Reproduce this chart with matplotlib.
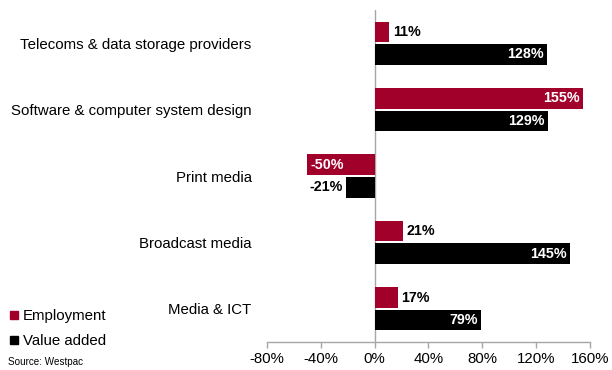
import matplotlib
matplotlib.use("Agg")
import matplotlib.pyplot as plt
import matplotlib.lines as mlines
import numpy as np

plt.rcParams["font.family"] = ["Liberation Sans", "DejaVu Sans"]

categories = [
    "Telecoms & data storage providers",
    "Software & computer system design",
    "Print media",
    "Broadcast media",
    "Media & ICT",
]
employment = [11, 155, -50, 21, 17]
value_added = [128, 129, -21, 145, 79]
x_ticks = [-80, -40, 0, 40, 80, 120, 160]

RED = "#A0002A"
BLACK = "#000000"
GREY = "#A6A6A6"

fig = plt.figure(figsize=(6.12, 3.70), dpi=100)
ax = fig.add_axes([267 / 612, 1 - 342 / 370, 323 / 612, 332 / 370])

y = np.arange(len(categories))
offset = 0.17
height = 0.31

ax.barh(y - offset, employment, height=height, color=RED)
ax.barh(y + offset, value_added, height=height, color=BLACK)

# Value labels: white inside long bars, black outside short ones
def label_bars(values, ypos, threshold=40):
    for v, yy in zip(values, ypos):
        txt = f"{v}%"
        if abs(v) >= threshold:
            ha = "right" if v > 0 else "left"
            dx = -2.5 if v > 0 else 2.5
            ax.text(v + dx, yy, txt, ha=ha, va="center", color="white",
                    fontsize=10.3, fontweight="bold")
        else:
            ha = "left" if v > 0 else "right"
            dx = 2.5 if v > 0 else -2.5
            ax.text(v + dx, yy, txt, ha=ha, va="center", color="black",
                    fontsize=10.3, fontweight="bold")

label_bars(employment, y - offset)
label_bars(value_added, y + offset)

ax.set_xlim(-80, 160)
ax.set_ylim(len(categories) - 0.5, -0.5)
ax.axvline(0, color=GREY, lw=1.0, zorder=0)

ax.set_xticks(x_ticks)
ax.set_xticklabels([f"{t}%" for t in x_ticks], fontsize=10.8)
ax.tick_params(axis="x", length=4, color=GREY, width=1.0, pad=3)

ax.set_yticks(y)
ax.set_yticklabels(categories, fontsize=10.8)
ax.tick_params(axis="y", length=0, pad=11)

for side in ["top", "right", "left"]:
    ax.spines[side].set_visible(False)
ax.spines["bottom"].set_color(GREY)
ax.spines["bottom"].set_linewidth(1.0)

handles = [
    mlines.Line2D([], [], marker="s", color=RED, linestyle="none", markersize=5.5),
    mlines.Line2D([], [], marker="s", color=BLACK, linestyle="none", markersize=6),
]
fig.legend(handles, ["Employment", "Value added"], loc="lower left",
           bbox_to_anchor=(-0.004, 0.035), frameon=False, fontsize=10.8,
           handletextpad=0.1, labelspacing=0.75, handlelength=1.0,
           borderaxespad=0.2)

fig.text(8 / 612, 1 - 362 / 370, "Source: Westpac", fontsize=7.1,
         va="center", ha="left")

fig.savefig("out.png", dpi=100)
